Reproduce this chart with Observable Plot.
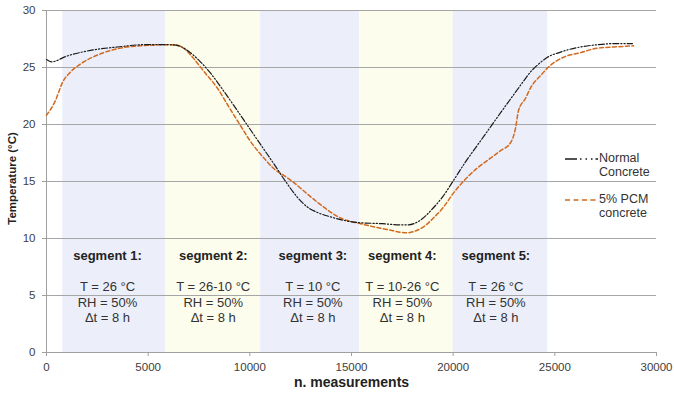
<!DOCTYPE html>
<html>
<head>
<meta charset="utf-8">
<script src="https://cdn.jsdelivr.net/npm/d3@7"></script>
<script src="https://cdn.jsdelivr.net/npm/@observablehq/plot@0.6"></script>
<style>
  html, body { margin: 0; padding: 0; background: white; }
  #wrap { position: relative; width: 674px; height: 395px; font-family: "Liberation Sans", Arial, sans-serif; }
  #legend { position: absolute; left: 565px; top: 151px; font-size: 12.5px; color: #333; }
  .item { position: relative; height: 28px; margin-bottom: 13px; }
  .item svg { position: absolute; left: 0; top: 2px; }
  .item .lab { position: absolute; left: 34px; top: 0; line-height: 14px; white-space: nowrap; }
</style>
</head>
<body>
<div id="wrap"></div>
<script>
// ---- data ----
const xTicks = [0, 5000, 10000, 15000, 20000, 25000, 30000];
const yTicks = [0, 5, 10, 15, 20, 25, 30];

const segStart = [800, 5850, 10530, 15400, 20000];
const segEnd   = [5850, 10530, 15400, 20000, 24650];
const segFill  = ["#eceffa", "#fdfdee", "#eceffa", "#fdfdee", "#eceffa"];
const segLabelX = [3000, 8200, 13100, 17500, 22100];
const segTitle = ["segment 1:", "segment 2:", "segment 3:", "segment 4:", "segment 5:"];
const segTemp  = ["26 °C", "26-10 °C", "10 °C", "10-26 °C", "26 °C"];
const segRH    = ["50%", "50%", "50%", "50%", "50%"];
const segDt    = ["8 h", "8 h", "8 h", "8 h", "8 h"];

const normalX = [0, 250, 1000, 2160, 3490, 4770, 5260, 6000, 6500, 7000, 7570, 8070, 8650, 9200, 9700, 10200, 10700, 11200, 11760, 12300, 12800, 13300, 13970, 14600, 15300, 16500, 17400, 17800, 18300, 19030, 19500, 20020, 20600, 21200, 21840, 22400, 22970, 23500, 23800, 24200, 24640, 25280, 26260, 27100, 27900, 28820];
const normalT = [25.7, 25.5, 26.0, 26.5, 26.8, 27.0, 27.0, 27.0, 26.9, 26.4, 25.5, 24.5, 23.1, 21.7, 20.4, 19.1, 17.8, 16.5, 15.0, 13.7, 12.8, 12.3, 11.9, 11.6, 11.4, 11.3, 11.2, 11.2, 11.5, 12.7, 13.7, 15.1, 16.7, 18.2, 19.8, 21.2, 22.6, 23.9, 24.6, 25.3, 25.9, 26.35, 26.8, 27.0, 27.1, 27.1];

const pcmX = [0, 440, 790, 1180, 1670, 2660, 3640, 4620, 5950, 6300, 6740, 7230, 7720, 8400, 9050, 9540, 10000, 10770, 11200, 11700, 12100, 12700, 13380, 14460, 15440, 16430, 17000, 17400, 17700, 18200, 18600, 19030, 19500, 20020, 20600, 21200, 21800, 22330, 22820, 23070, 23210, 23560, 23800, 24300, 24790, 25430, 26260, 27100, 27900, 28870];
const pcmT = [20.8, 22.1, 23.7, 24.6, 25.3, 26.2, 26.7, 26.9, 27.0, 27.0, 26.7, 25.8, 24.7, 23.2, 21.3, 19.9, 18.6, 16.9, 16.1, 15.5, 15.0, 14.1, 13.1, 11.8, 11.3, 10.9, 10.7, 10.55, 10.5, 10.7, 11.1, 11.8, 12.7, 14.0, 15.2, 16.2, 17.0, 17.7, 18.4, 19.7, 21.2, 22.3, 23.2, 24.3, 25.2, 25.9, 26.3, 26.7, 26.8, 26.9];

const seriesNames = ["Normal\nConcrete", "5% PCM\nconcrete"];
const seriesColors = ["#1a1a1a", "#d2691e"];
const seriesDash = ["6,2,1.2,2,1.2,2", "4,2.5"];

// ---- build ----
const bands = segStart.map((s, i) => ({x1: s, x2: segEnd[i], fill: segFill[i]}));
const normal = normalX.map((x, i) => ({x, t: normalT[i]}));
const pcm = pcmX.map((x, i) => ({x, t: pcmT[i]}));

const chart = Plot.plot({
  width: 674, height: 395,
  marginLeft: 46, marginRight: 18, marginTop: 10, marginBottom: 43,
  x: {domain: [0, 30000]},
  y: {domain: [0, 30]},
  style: {fontFamily: "'Liberation Sans', Arial, sans-serif", fontSize: "11.5px", color: "#404040", background: "white", overflow: "visible"},
  marks: [
    Plot.rect(bands, {x1: "x1", x2: "x2", fill: d => d.fill}),
    Plot.gridY(yTicks.filter(d => d > 0), {stroke: "#a6a6a6", strokeOpacity: 1}),
    Plot.ruleX([0], {stroke: "#a0a0a0"}),
    Plot.ruleY([0], {stroke: "#a0a0a0"}),
    Plot.axisY(yTicks, {tickSize: 4, tickPadding: 7, stroke: "#a0a0a0", fill: "#404040", label: null, fontSize: 11.5}),
    Plot.axisX(xTicks, {tickSize: 4, tickPadding: 6, stroke: "#a0a0a0", fill: "#404040", label: null, tickFormat: d3.format("d"), fontSize: 11.5}),
    Plot.text(segTitle, {x: (d, i) => segLabelX[i], text: d => d, frameAnchor: "bottom", lineAnchor: "middle", dy: -97, fontWeight: "bold", fontSize: 13, fill: "#222"}),
    Plot.text(segTitle, {x: (d, i) => segLabelX[i], text: (d, i) => `T = ${segTemp[i]}\nRH = ${segRH[i]}\nΔt = ${segDt[i]}`, frameAnchor: "bottom", lineAnchor: "middle", lineHeight: 1.2, dy: -51, fontSize: 13, fill: "#333"}),
    Plot.line(pcm, {x: "x", y: "t", stroke: seriesColors[1], strokeWidth: 1.5, strokeDasharray: seriesDash[1], curve: "monotone-x"}),
    Plot.line(normal, {x: "x", y: "t", stroke: seriesColors[0], strokeWidth: 1.2, strokeDasharray: seriesDash[0], curve: "monotone-x"}),
    Plot.text(["Temperature (°C)"], {frameAnchor: "left", textAnchor: "middle", rotate: -90, dx: -34, dy: -3, fontWeight: "bold", fontSize: 11.5, fill: "#222"}),
    Plot.text(["n. measurements"], {frameAnchor: "bottom", textAnchor: "middle", lineAnchor: "middle", dy: 30, fontWeight: "bold", fontSize: 14, fill: "#222"})
  ]
});

const wrap = document.getElementById("wrap");
wrap.appendChild(chart);

const legend = document.createElement("div");
legend.id = "legend";
seriesNames.forEach((name, i) => {
  const item = document.createElement("div");
  item.className = "item";
  item.innerHTML = `<svg width="34" height="12"><line x1="0" y1="6" x2="33" y2="6" stroke="${seriesColors[i]}" stroke-width="${i === 0 ? 1.5 : 1.6}" stroke-dasharray="${i === 0 ? '12,3,1.5,4,1.5,4,1.5,3' : '5,3.5'}"/></svg>`;
  const lab = document.createElement("div");
  lab.className = "lab";
  lab.innerText = name;
  item.appendChild(lab);
  legend.appendChild(item);
});
wrap.appendChild(legend);
</script>
</body>
</html>
